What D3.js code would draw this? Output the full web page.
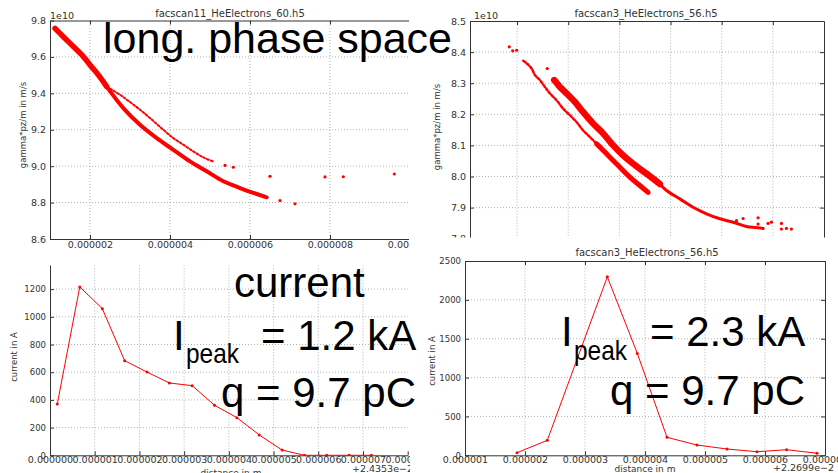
<!DOCTYPE html>
<html>
<head>
<meta charset="utf-8">
<script src="https://cdn.jsdelivr.net/npm/d3@7"></script>
<style>
body { margin: 0; background: white; }
</style>
</head>
<body>
<script>
// ---- data ----
// top left: facscan11_HeElectrons_60.h5  (z in 1e-6 m, gamma*pz/m in 1e10 m/s)
const p1_head = [[1.125, 9.757], [1.333, 9.711], [1.583, 9.657], [1.833, 9.602], [2.0, 9.556], [2.208, 9.501], [2.417, 9.437]]
const p1_lower = [[2.417, 9.437], [2.833, 9.319], [3.25, 9.227], [3.667, 9.154], [4.083, 9.090], [4.5, 9.026], [4.917, 8.972], [5.333, 8.917], [5.75, 8.880], [6.083, 8.853], [6.417, 8.829]]
const p1_upper = [[2.417, 9.437], [2.75, 9.392], [3.0, 9.352], [3.25, 9.310], [3.5, 9.264], [3.833, 9.200], [4.083, 9.154], [4.333, 9.118], [4.583, 9.081], [4.833, 9.048], [5.083, 9.026]]
const p1_strays = [[5.375, 9.004], [5.583, 8.994], [6.5, 8.944], [6.75, 8.811], [7.125, 8.793], [7.875, 8.941], [8.333, 8.942], [9.608, 8.957]]
const p1_x_ticks = [2, 4, 6, 8, 10]
const p1_y_ticks = [8.6, 8.8, 9.0, 9.2, 9.4, 9.6, 9.8]

// top right: facscan3_HeElectrons_56.h5
const p2_upper = [[1.726, 8.310], [1.838, 8.288], [1.969, 8.267], [2.131, 8.240], [2.293, 8.207], [2.488, 8.170], [2.684, 8.138], [2.879, 8.100], [3.074, 8.068], [3.27, 8.041], [3.531, 8.009], [3.791, 7.976]]
const p2_tail = [[3.791, 7.976], [3.922, 7.955], [4.182, 7.928], [4.441, 7.901], [4.703, 7.880], [4.963, 7.864], [5.223, 7.853], [5.484, 7.839], [5.646, 7.836], [5.783, 7.834]]
const p2_left = [[1.121, 8.372], [1.187, 8.364], [1.285, 8.347], [1.35, 8.326], [1.447, 8.310], [1.545, 8.288], [1.643, 8.267], [1.773, 8.245], [1.902, 8.218], [2.033, 8.197], [2.164, 8.175], [2.293, 8.148], [2.424, 8.127], [2.555, 8.105]]
const p2_lower = [[2.555, 8.105], [2.619, 8.095], [2.814, 8.062], [3.01, 8.030], [3.205, 7.998], [3.4, 7.971], [3.562, 7.949]]
const p2_strays = [[0.848, 8.417], [0.914, 8.404], [0.992, 8.406], [1.59, 8.347], [5.289, 7.858], [5.418, 7.865], [5.711, 7.867], [5.711, 7.847], [5.809, 7.833], [5.906, 7.849], [5.972, 7.853], [6.168, 7.849], [6.168, 7.831], [6.266, 7.833], [6.363, 7.831]]
const p2_x_ticks = [1, 2, 3, 4, 5, 6]
const p2_y_ticks = [7.8, 7.9, 8.0, 8.1, 8.2, 8.3, 8.4, 8.5]

// bottom left: current, distance in 1e-6 m (+2.4353e-2)
const p3_dist = [0.163, 0.666, 1.17, 1.67, 2.17, 2.67, 3.18, 3.68, 4.18, 4.68, 5.19, 5.69, 6.19, 6.69, 7.19]
const p3_current = [370, 1216, 1059, 683, 601, 522, 503, 361, 272, 147, 38, 0, 0, 0, 0]
const p3_x_ticks = [0, 1, 2, 3, 4, 5, 6, 7, 8]
const p3_y_ticks = [0, 200, 400, 600, 800, 1000, 1200]

// bottom right: current, distance in 1e-6 m (+2.2699e-2)
const p4_dist = [1.867, 2.372, 3.372, 3.872, 4.367, 4.867, 5.367, 5.867, 6.36, 6.867]
const p4_current = [33, 193, 2296, 1311, 231, 132, 81, 46, 72, 26]
const p4_x_ticks = [1, 2, 3, 4, 5, 6, 7]
const p4_y_ticks = [0, 500, 1000, 1500, 2000, 2500]

// ---- drawing ----
const mpl_font = 'DejaVu Sans'
const big_font = 'Liberation Sans, Arial, sans-serif'
const red = '#ff0000'

const svg = d3.select('body').append('svg')
    .attr('width', 838)
    .attr('height', 473)
    .style('background', 'white')
const defs = svg.append('defs')

function add_clip(id, x, y, w, h) {
    defs.append('clipPath').attr('id', id)
        .append('rect').attr('x', x).attr('y', y).attr('width', w).attr('height', h)
    return `url(#${id})`
}

function draw_grid(g, x, y, x_vals, y_vals) {
    const [xa, xb] = x.range()
    const [ya, yb] = y.range()
    g.selectAll(null).data(x_vals).enter().append('line')
        .attr('x1', d => x(d)).attr('x2', d => x(d))
        .attr('y1', ya).attr('y2', yb)
        .style('stroke', '#a0a0a0').style('stroke-width', 0.8).style('stroke-dasharray', '1,2')
    g.selectAll(null).data(y_vals).enter().append('line')
        .attr('x1', xa).attr('x2', xb)
        .attr('y1', d => y(d)).attr('y2', d => y(d))
        .style('stroke', '#a0a0a0').style('stroke-width', 0.8).style('stroke-dasharray', '1,2')
}

function draw_axis(g, axis, transform, font_size) {
    const a = g.append('g').attr('transform', transform).call(axis)
    a.attr('font-family', mpl_font).attr('font-size', font_size).style('color', '#333')
    a.select('.domain').style('stroke', '#333')
    return a
}

function add_text(g, txt, x, y, size, anchor, rotate) {
    const t = g.append('text')
        .text(txt)
        .attr('font-family', mpl_font)
        .attr('font-size', size)
        .attr('fill', '#333')
        .attr('text-anchor', anchor || 'start')
    if(rotate) t.attr('transform', `translate(${x},${y}) rotate(-90)`)
    else t.attr('x', x).attr('y', y)
    return t
}

function draw_band(g, x, y, pts, width, dash) {
    const line = d3.line().x(d => x(d[0])).y(d => y(d[1])).curve(d3.curveCatmullRom)
    const p = g.append('path')
        .attr('d', line(pts))
        .style('fill', 'none')
        .style('stroke', red)
        .style('stroke-width', width)
        .style('stroke-linecap', 'round')
        .style('stroke-linejoin', 'round')
    if(dash) p.style('stroke-dasharray', dash)
}

function draw_dots(g, x, y, pts, r) {
    g.selectAll(null).data(pts).enter().append('circle')
        .attr('cx', d => x(d[0])).attr('cy', d => y(d[1])).attr('r', r)
        .style('fill', red)
}

const um_format = d => (d * 1e-6).toFixed(6)

// panel 1
function panel_1() {
    const x = d3.scaleLinear().domain([1, 10]).range([50, 410])
    const y = d3.scaleLinear().domain([8.6, 9.8]).range([239, 20.5])
    const g = svg.append('g').attr('clip-path', add_clip('c1a', 0, 0, 409, 250))
    draw_grid(g, x, y, [2, 4, 6, 8], [8.8, 9.0, 9.2, 9.4, 9.6])
    const plot = g.append('g').attr('clip-path', add_clip('c1', 50, 20.5, 359, 218.5))
    draw_band(plot, x, y, p1_head, 5.5)
    draw_band(plot, x, y, p1_lower, 4)
    draw_band(plot, x, y, p1_upper, 2, '2,2')
    draw_dots(plot, x, y, p1_strays, 1.6)

    draw_axis(g, d3.axisBottom(x).tickValues(p1_x_ticks).tickFormat(um_format).tickSizeInner(-4).tickSizeOuter(0).tickPadding(2.5), 'translate(0,239)', 9.5)
    draw_axis(g, d3.axisLeft(y).tickValues(p1_y_ticks).tickFormat(d3.format('.1f')).tickSizeInner(-4).tickSizeOuter(0).tickPadding(4), 'translate(50,0)', 9.5)
    draw_axis(g, d3.axisTop(x).tickValues(p1_x_ticks).tickFormat('').tickSizeInner(-4).tickSizeOuter(0), 'translate(0,20.5)', 9.5)

    add_text(g, '1e10', 50, 18.5, 9.5)
    add_text(g, 'facscan11_HeElectrons_60.h5', 230, 16.5, 10, 'middle')
    add_text(g, 'z in m', 230, 258, 9, 'middle')
    add_text(g, 'gamma*pz/m in m/s', 26, 125, 8.5, 'middle', true)
}

// panel 2
function panel_2() {
    const x = d3.scaleLinear().domain([0.08, 7]).range([470, 824])
    const y = d3.scaleLinear().domain([7.8, 8.5]).range([238.7, 21])
    const g = svg.append('g').attr('clip-path', add_clip('c2a', 421, 0, 417, 237.5))
    draw_grid(g, x, y, p2_x_ticks, [7.9, 8.0, 8.1, 8.2, 8.3, 8.4])
    const plot = g.append('g').attr('clip-path', add_clip('c2', 470, 21, 354, 216.5))
    draw_band(plot, x, y, p2_left, 2.5, '2.5,2')
    draw_band(plot, x, y, p2_lower, 5)
    draw_band(plot, x, y, p2_upper, 6.5)
    draw_band(plot, x, y, p2_tail, 3)
    draw_dots(plot, x, y, p2_strays, 1.6)

    draw_axis(g, d3.axisLeft(y).tickValues(p2_y_ticks).tickFormat(d3.format('.1f')).tickSizeInner(-4).tickSizeOuter(0).tickPadding(4), 'translate(470,0)', 9.5)
    draw_axis(g, d3.axisTop(x).tickValues(p2_x_ticks).tickFormat('').tickSizeInner(-4).tickSizeOuter(0), 'translate(0,21)', 9.5)
    draw_axis(g, d3.axisRight(y).tickValues(p2_y_ticks).tickFormat('').tickSizeInner(-4).tickSizeOuter(0), 'translate(824,0)', 9.5)

    add_text(g, '1e10', 474, 18.5, 9.5)
    add_text(g, 'facscan3_HeElectrons_56.h5', 646, 16.5, 10, 'middle')
    add_text(g, 'gamma*pz/m in m/s', 440, 127, 8.5, 'middle', true)
}

// panel 3
function panel_3() {
    const x = d3.scaleLinear().domain([0, 8]).range([50, 407.7])
    const y = d3.scaleLinear().domain([0, 1400]).range([455.3, 261.4])
    const g = svg.append('g').attr('clip-path', add_clip('c3a', 0, 265.5, 410, 208))
    draw_grid(g, x, y, [1, 2, 3, 4, 5, 6, 7], [200, 400, 600, 800, 1000, 1200])
    const plot = g.append('g').attr('clip-path', add_clip('c3', 50, 265.5, 359, 190))
    const pts = p3_dist.map((d, i) => [d, p3_current[i]])
    const line = d3.line().x(d => x(d[0])).y(d => y(d[1]))
    plot.append('path').attr('d', line(pts))
        .style('fill', 'none').style('stroke', red).style('stroke-width', 1)
    draw_dots(plot, x, y, pts, 1.5)

    draw_axis(g, d3.axisBottom(x).tickValues(p3_x_ticks).tickFormat(um_format).tickSizeInner(-4).tickSizeOuter(0).tickPadding(1), 'translate(0,455.3)', 9.5)
    draw_axis(g, d3.axisLeft(y).tickValues(p3_y_ticks).tickFormat(d3.format('d')).tickSizeInner(-4).tickSizeOuter(0).tickPadding(4), 'translate(50,0)', 8.5)

    add_text(g, '+2.4353e\u22122', 413, 472, 9.5, 'end')
    add_text(g, 'distance in m', 231, 475.5, 9, 'middle')
    add_text(g, 'current in A', 17, 357, 8.5, 'middle', true)
}

// panel 4
function panel_4() {
    const x = d3.scaleLinear().domain([1, 7]).range([465, 825])
    const y = d3.scaleLinear().domain([0, 2500]).range([455.3, 261])
    const g = svg.append('g')
    draw_grid(g, x, y, [2, 3, 4, 5, 6], [500, 1000, 1500, 2000])
    const plot = g.append('g').attr('clip-path', add_clip('c4', 465, 261, 360, 194.3))
    const pts = p4_dist.map((d, i) => [d, p4_current[i]])
    const line = d3.line().x(d => x(d[0])).y(d => y(d[1]))
    plot.append('path').attr('d', line(pts))
        .style('fill', 'none').style('stroke', red).style('stroke-width', 1)
    draw_dots(plot, x, y, pts, 1.5)

    draw_axis(g, d3.axisBottom(x).tickValues(p4_x_ticks).tickFormat(um_format).tickSizeInner(-4).tickSizeOuter(0).tickPadding(1), 'translate(0,455.3)', 9.5)
    draw_axis(g, d3.axisLeft(y).tickValues(p4_y_ticks).tickFormat(d3.format('d')).tickSizeInner(-4).tickSizeOuter(0).tickPadding(4), 'translate(465,0)', 8.5)
    draw_axis(g, d3.axisTop(x).tickValues(p4_x_ticks).tickFormat('').tickSizeInner(-4).tickSizeOuter(0), 'translate(0,261)', 9.5)
    draw_axis(g, d3.axisRight(y).tickValues(p4_y_ticks).tickFormat('').tickSizeInner(-4).tickSizeOuter(0), 'translate(825,0)', 9.5)

    add_text(g, 'facscan3_HeElectrons_56.h5', 647, 256, 10, 'middle')
    add_text(g, '+2.2699e\u22122', 834, 470.5, 9.5, 'end')
    add_text(g, 'distance in m', 645, 472, 9, 'middle')
    add_text(g, 'current in A', 435, 361, 8.5, 'middle', true)
}

// big slide labels on top
function big_text(txt, x, y, size, len) {
    const t = svg.append('text')
        .text(txt)
        .attr('x', x).attr('y', y)
        .attr('font-family', big_font)
        .attr('font-size', size)
        .attr('fill', 'black')
    if(len) t.attr('textLength', len).attr('lengthAdjust', 'spacingAndGlyphs')
}

function main() {
    panel_1()
    panel_2()
    panel_3()
    panel_4()
    big_text('long. phase space', 103, 53, 43)
    big_text('current', 234, 297, 42)
    big_text('I', 173, 350, 42)
    big_text('peak', 186, 363, 28, 53)
    big_text('= 1.2 kA', 261, 350, 42)
    big_text('q = 9.7 pC', 221, 407, 42)
    big_text('I', 561, 346, 42)
    big_text('peak', 574, 360, 28, 53)
    big_text('= 2.3 kA', 650, 346, 42)
    big_text('q = 9.7 pC', 610, 405, 42)
}

main()
</script>
</body>
</html>
